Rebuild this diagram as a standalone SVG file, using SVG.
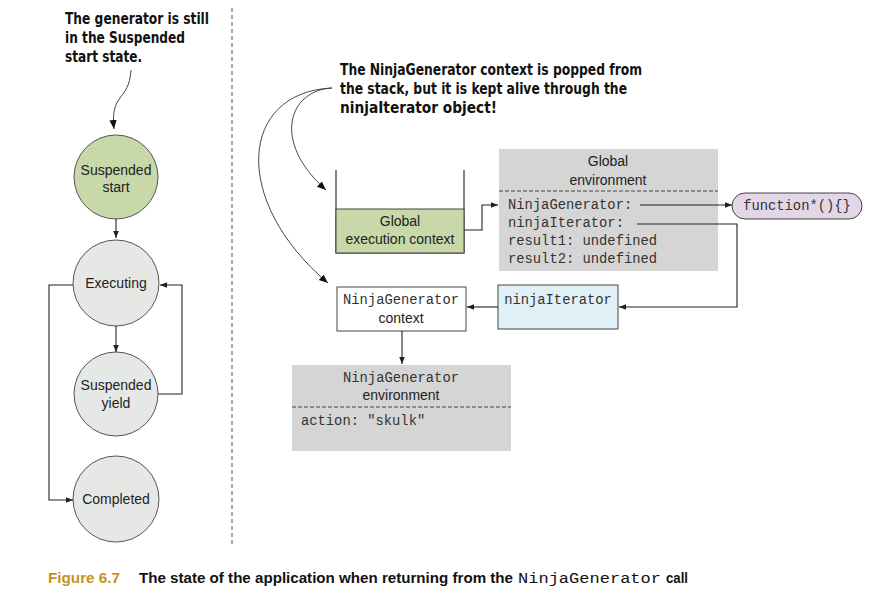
<svg xmlns="http://www.w3.org/2000/svg" width="878" height="607" viewBox="0 0 878 607">
<defs>
<marker id="ah" viewBox="0 0 10 10" refX="10" refY="5" markerWidth="7" markerHeight="7" markerUnits="userSpaceOnUse" orient="auto">
<path d="M0,1 L10,5 L0,9 Z" fill="#222"/>
</marker>
<marker id="ahb" viewBox="0 0 10 10" refX="10" refY="5" markerWidth="9" markerHeight="9" markerUnits="userSpaceOnUse" orient="auto">
<path d="M0,1 L10,5 L0,9 Z" fill="#111"/>
</marker>
</defs>
<style>
.ann{font-family:"DejaVu Sans Condensed","DejaVu Sans",sans-serif;font-weight:bold;font-size:16px;fill:#111}
.sans{font-family:"Liberation Sans",Arial,sans-serif;font-size:14px;fill:#222}
.mono{font-family:"Liberation Mono","Courier New",monospace;font-size:13.8px;fill:#333}
.circ{fill:#e6e8e6;stroke:#555;stroke-width:1}
.green{fill:#c8d8a9;stroke:#444;stroke-width:1}
.env{fill:#d5d5d5}
.line{fill:none;stroke:#222;stroke-width:1.1}
.curve{fill:none;stroke:#333;stroke-width:0.9}
.dash{stroke:#444;stroke-width:1;stroke-dasharray:4,2}
.cap{font-family:"Liberation Sans",Arial,sans-serif;font-weight:bold;font-size:15px;fill:#111}
</style>
<rect width="878" height="607" fill="#fff"/>
<line x1="232" y1="8" x2="232" y2="545" stroke="#555" stroke-width="1" stroke-dasharray="4,3"/>

<g id="annotation-left">
<text class="ann" x="65" y="24" textLength="144" lengthAdjust="spacingAndGlyphs">The generator is still</text>
<text class="ann" x="65" y="43" textLength="120" lengthAdjust="spacingAndGlyphs">in the Suspended</text>
<text class="ann" x="65" y="62" textLength="77" lengthAdjust="spacingAndGlyphs">start state.</text>
</g>
<g id="annotation-right">
<text class="ann" x="340" y="75" textLength="302" lengthAdjust="spacingAndGlyphs">The NinjaGenerator context is popped from</text>
<text class="ann" x="340" y="94" textLength="287" lengthAdjust="spacingAndGlyphs">the stack, but it is kept alive through the</text>
<text class="ann" x="340" y="113" textLength="157" lengthAdjust="spacingAndGlyphs">ninjaIterator object!</text>
</g>

<g id="state-suspended-start">
<circle class="circ" cx="116" cy="177" r="42" style="fill:#c8d8a9"/>
<text class="sans" x="116" y="175" text-anchor="middle">Suspended</text>
<text class="sans" x="116" y="192" text-anchor="middle">start</text>
</g>
<g id="state-executing">
<circle class="circ" cx="116" cy="283" r="43"/>
<text class="sans" x="116" y="288" text-anchor="middle">Executing</text>
</g>
<g id="state-suspended-yield">
<circle class="circ" cx="116" cy="394" r="42"/>
<text class="sans" x="116" y="390" text-anchor="middle">Suspended</text>
<text class="sans" x="116" y="408" text-anchor="middle">yield</text>
</g>
<g id="state-completed">
<circle class="circ" cx="116" cy="499" r="43"/>
<text class="sans" x="116" y="504" text-anchor="middle">Completed</text>
</g>

<g id="stack">
<path class="line" d="M336,170 V253 H464 V170" stroke="#444"/>
<rect class="green" x="336" y="209" width="128" height="44"/>
<text class="sans" x="400" y="226" text-anchor="middle">Global</text>
<text class="sans" x="400" y="244" text-anchor="middle">execution context</text>
</g>

<g id="global-environment">
<rect class="env" x="499" y="149" width="219" height="122"/>
<line class="dash" x1="499" y1="191" x2="718" y2="191"/>
<text class="sans" x="608" y="166" text-anchor="middle">Global</text>
<text class="sans" x="608" y="185" text-anchor="middle">environment</text>
<text class="mono" x="508" y="209">NinjaGenerator:</text>
<text class="mono" x="508" y="227">ninjaIterator:</text>
<text class="mono" x="508" y="245">result1: undefined</text>
<text class="mono" x="508" y="263">result2: undefined</text>
</g>

<g id="function-object">
<rect x="732" y="193" width="130" height="26" rx="13" ry="13" fill="#e3d6e6" stroke="#444" stroke-width="1"/>
<text class="mono" x="797" y="210" text-anchor="middle">function*(){}</text>
</g>

<g id="ninjagenerator-context">
<rect x="337" y="287" width="129" height="44" fill="#fff" stroke="#444" stroke-width="1"/>
<text class="mono" x="401" y="304" text-anchor="middle">NinjaGenerator</text>
<text class="sans" x="401" y="323" text-anchor="middle">context</text>
</g>

<g id="ninjaiterator-object">
<rect x="498" y="285" width="120" height="44" fill="#dff0f7" stroke="#444" stroke-width="1"/>
<text class="mono" x="558" y="304" text-anchor="middle">ninjaIterator</text>
</g>

<g id="ninjagenerator-environment">
<rect class="env" x="292" y="365" width="219" height="86"/>
<line class="dash" x1="292" y1="407" x2="511" y2="407"/>
<text class="mono" x="401" y="382" text-anchor="middle">NinjaGenerator</text>
<text class="sans" x="401" y="400" text-anchor="middle">environment</text>
<text class="mono" x="301" y="425">action: "skulk"</text>
</g>

<g id="connectors">
<path class="curve" d="M131,70 C129,102 110,92 114,129" marker-end="url(#ahb)"/>
<path class="curve" d="M332,88 C290,90 270,140 326,190" marker-end="url(#ahb)"/>
<path class="curve" d="M332,88 C240,92 230,200 328,283" marker-end="url(#ahb)"/>
<path class="line" d="M116,219 V238" marker-end="url(#ah)"/>
<path class="line" d="M116,326 V352" marker-end="url(#ah)"/>
<path class="line" d="M158,394 H182 V285 H160" marker-end="url(#ah)"/>
<path class="line" d="M73,285 H49 V500 H73" marker-end="url(#ah)"/>
<path class="line" d="M464,230 H482 V205 H498" marker-end="url(#ah)"/>
<path class="line" d="M640,205 H732" marker-end="url(#ah)" stroke="#444"/>
<path class="line" d="M637,224 H737 V307 H619" marker-end="url(#ah)"/>
<path class="line" d="M498,307 H467" marker-end="url(#ah)"/>
<path class="line" d="M402,331 V364" marker-end="url(#ah)"/>
</g>

<g id="caption">
<text class="cap" x="48" y="583" style="fill:#c3921f" textLength="72" lengthAdjust="spacingAndGlyphs">Figure 6.7</text>
<text class="cap" x="139" y="583" textLength="374" lengthAdjust="spacingAndGlyphs">The state of the application when returning from the</text>
<text class="mono" x="518" y="583" textLength="143" lengthAdjust="spacingAndGlyphs" style="font-size:14.5px;fill:#111">NinjaGenerator</text>
<text class="cap" x="666" y="583" textLength="22" lengthAdjust="spacingAndGlyphs">call</text>
</g>
</svg>
